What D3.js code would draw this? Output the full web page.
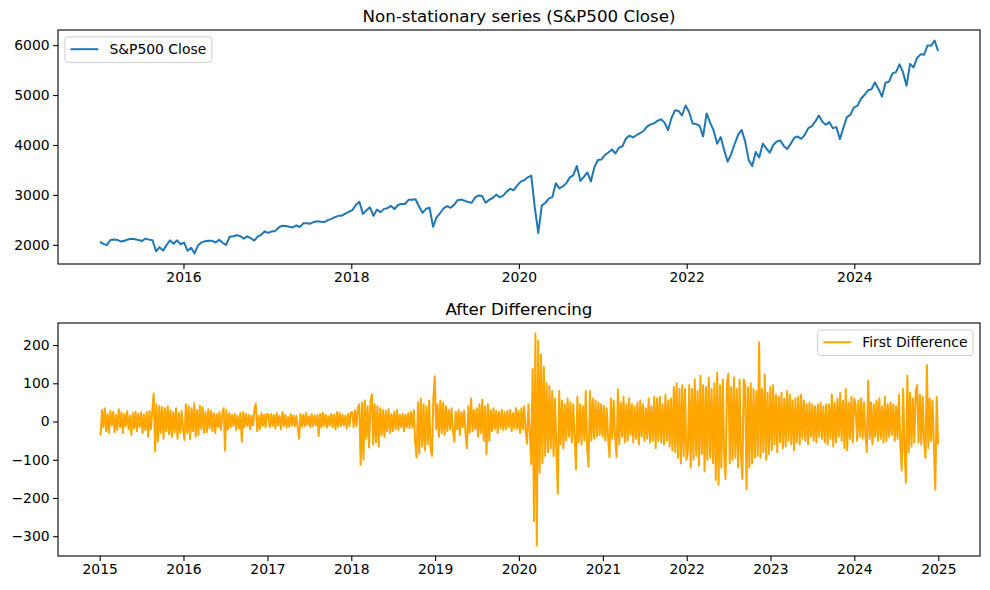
<!DOCTYPE html>
<html>
<head>
<meta charset="utf-8">
<script src="https://cdn.jsdelivr.net/npm/d3@7"></script>
<style>
  body { margin: 0; background: #fff; }
  text { font-family: "DejaVu Sans", sans-serif; }
</style>
</head>
<body>
<script>
// S&P500 close (about two values per month)
var close2015 = [2058, 2019, 1995, 2097, 2108, 2099, 2066, 2081, 2108, 2122, 2111, 2096, 2077, 2124, 2104, 2092, 1870, 1953, 1884, 1994, 2089, 2023, 2090, 2012];
var close2016 = [2044, 1880, 1940, 1829, 1993, 2049, 2072, 2080, 2081, 2047, 2099, 2040, 2000, 2162, 2173, 2190, 2176, 2125, 2171, 2132, 2085, 2164, 2201, 2271];
var close2017 = [2238, 2268, 2279, 2347, 2383, 2378, 2362, 2349, 2391, 2357, 2430, 2433, 2423, 2459, 2470, 2464, 2457, 2495, 2519, 2553, 2581, 2584, 2627, 2662];
var close2018 = [2695, 2802, 2860, 2620, 2691, 2752, 2581, 2706, 2655, 2720, 2734, 2779, 2718, 2798, 2816, 2818, 2901, 2904, 2914, 2767, 2641, 2722, 2743, 2360];
var close2019 = [2550, 2633, 2732, 2774, 2743, 2800, 2895, 2907, 2884, 2856, 2843, 2950, 2990, 2976, 2844, 2900, 2938, 3006, 2952, 2986, 3066, 3122, 3093, 3191];
var close2020 = [3265, 3295, 3352, 3386, 2750, 2237, 2790, 2837, 2930, 2955, 3232, 3131, 3169, 3236, 3351, 3397, 3580, 3281, 3360, 3450, 3270, 3557, 3699, 3709];
var close2021 = [3799, 3849, 3909, 3829, 3943, 3975, 4129, 4187, 4152, 4195, 4239, 4280, 4369, 4411, 4432, 4486, 4514, 4448, 4300, 4544, 4697, 4682, 4590, 4790];
var close2022 = [4660, 4431, 4419, 4385, 4173, 4632, 4447, 4288, 4024, 4158, 3900, 3667, 3818, 4024, 4207, 4300, 4067, 3693, 3577, 3859, 3749, 4027, 3934, 3845];
var close2023 = [3999, 4070, 4090, 3982, 3920, 4027, 4146, 4169, 4124, 4205, 4338, 4378, 4472, 4589, 4464, 4405, 4457, 4337, 4358, 4117, 4347, 4559, 4604, 4754];
var close2024 = [4784, 4925, 5000, 5096, 5117, 5254, 5123, 4967, 5247, 5267, 5433, 5460, 5615, 5459, 5186, 5625, 5554, 5745, 5815, 5808, 5995, 5987, 6090, 5882];

// first difference (spikes of the band, ~60 a year)
var diff2015 = [-37, 30, -15, 35, -25, 20, -30, 28, -10, 25, -28, 18, -22, 32, -15, 24, -30, 20, -12, 27,
    -20, 15, -35, 22, -18, 26, -25, 20, -14, 24, -30, 18, -22, 25, -40, 28, -20, 30, 73, -78,
    45, -52, 40, -30, 38, -45, 35, -25, 40, -33, 30, -40, 25, -28, 35, -45, 22, -30, 28, -20];
var diff2016 = [-48, 45, -30, 40, -46, 35, -25, 48, -40, 30, -35, 42, -20, 38, -30, 25, -28, 32, -18, 28,
    -25, 22, -30, 20, -15, 25, -22, 18, 35, -76, 30, -20, 22, -15, 18, -12, 20, -22, 15, -18,
    22, -53, 25, -15, 20, -12, 18, -20, 15, -10, 30, 47, -25, 15, -20, 22, -12, 18, -15, 20];
var diff2017 = [18, -15, 20, -12, 17, -18, 22, -10, 15, -20, 25, -12, 18, -16, 12, -14, 20, -10, 16, -12,
    15, -18, -45, 20, -14, 18, -12, 22, -10, 14, -15, 20, -12, 16, -10, 18, -38, 20, -15, 22,
    -12, 18, -16, 14, -10, 20, -15, 18, -20, 25, -14, 22, -12, 18, -10, 15, -18, 20, -12, 24];
var diff2018 = [25, -15, 30, -12, 35, 45, -113, 50, -100, 55, -45, 40, -68, 50, 71, -60, 45, -55, 40, -65,
    35, -35, 30, -40, 28, -25, 32, -30, 20, -25, 25, -20, 30, -22, 18, -15, 20, -25, 18, -15,
    22, -18, 25, -15, 30, -55, -94, 50, -84, 60, -65, 45, -75, 40, -60, 55, -70, -90, 60, 118];
var diff2019 = [-20, 45, -40, 55, -30, 50, -35, 40, -25, 30, -20, 35, -25, -53, 25, -20, 30, -35, 25, -15,
    28, -30, -70, 40, -30, 60, -25, 30, -20, 35, -40, 45, -30, 57, -50, 40, -85, 45, -50, 30,
    -25, 35, -20, 28, -30, 25, -18, 30, -22, 25, -20, 28, -15, 30, -25, 22, -18, 35, -20, 28];
var diff2020 = [-30, 35, -20, 40, -25, -58, 45, -30, -111, 137, -261, 230, -324, 211, -133, 175, -110, 143, -90, 100,
    -80, 93, -70, 80, -90, 60, -75, -188, 80, -60, 55, -70, 45, -50, 60, -40, 50, -55, 45, -40,
    -125, 65, -55, 45, -60, 40, -50, 80, -70, -118, 80, -50, 60, -45, 55, -40, 50, -35, 45, -40];
var diff2021 = [40, -50, 35, -45, -93, 60, -45, 55, -40, -93, 84, -60, 50, -40, 65, -55, 45, -50, 60, -35,
    45, -55, 40, -45, 50, -60, 55, -40, 45, -50, 35, -45, 60, -55, 40, -50, 65, -70, 60, -50,
    65, -55, 45, -60, 70, -50, 55, -65, 60, -75, 90, -80, 100, -95, 85, -110, 95, -90, 85, -100];
var diff2022 = [-80, 95, -120, 85, -100, 110, -90, 80, -115, 120, -85, 95, -130, 90, -100, 115, -95, 85, -110, 100,
    -153, 128, -165, 95, -120, 110, -90, -150, 100, 125, -110, 90, -100, 115, -95, 85, -120, 110, -85, -150,
    110, 95, -177, 90, -120, 100, -110, 85, -95, 80, -90, 207, -95, 85, -80, 123, -100, 75, -85, 90];
var diff2023 = [-75, 95, -60, 70, -80, 65, -55, 75, -70, 60, -65, 80, -50, 70, -60, 55, -75, 60, -55, 65,
    -60, 70, -45, 55, -50, 45, -60, 50, -40, 45, -50, 40, -55, 45, -40, 50, -45, 40, -55, 45,
    -60, 45, -45, 70, -65, 50, -55, 60, -40, 75, -50, 55, -70, 85, -75, 50, -45, 65, -55, 60];
var diff2024 = [45, -50, 55, -40, 60, -45, 50, -35, -80, 107, -45, 50, -60, 45, -40, 55, -50, 60, -45, 40,
    -55, 65, -50, 45, -40, 50, -35, 45, -50, 40, -45, 70, -60, -128, 85, -70, -160, 120, -80, 75,
    -65, 60, -55, 80, 95, -55, 70, -60, 65, -50, -95, 147, -70, 60, -50, 55, -65, -178, 65, -60];

var closeStart = new Date(2015, 0, 2), closeEnd = new Date(2024, 11, 31);
var diffStart = new Date(2015, 0, 5), diffEnd = new Date(2024, 11, 31);

var topYears = [2016, 2018, 2020, 2022, 2024];
var bottomYears = [2015, 2016, 2017, 2018, 2019, 2020, 2021, 2022, 2023, 2024, 2025];
var closeTicks = [2000, 3000, 4000, 5000, 6000];
var diffTicks = [-300, -200, -100, 0, 100, 200];

var closeValues = [].concat(close2015, close2016, close2017, close2018, close2019,
    close2020, close2021, close2022, close2023, close2024);
var diffValues = [].concat(diff2015, diff2016, diff2017, diff2018, diff2019,
    diff2020, diff2021, diff2022, diff2023, diff2024);

// spread each series evenly between its first and last trading day
function withDates(values, start, end) {
    var t = d3.scaleLinear().domain([0, values.length - 1]).range([+start, +end]);
    return values.map(function (v, i) { return { date: new Date(t(i)), value: v }; });
}
var closeData = withDates(closeValues, closeStart, closeEnd);
var diffData = withDates(diffValues, diffStart, diffEnd);

var width = 990, height = 590;
var left = 58, right = 980;
var tickFont = 13.9, titleFont = 16.7;

var svg = d3.select("body").append("svg")
    .attr("width", width)
    .attr("height", height);

// matplotlib style 5% margin around the data
function padded(lo, hi) {
    var m = (hi - lo) * 0.05;
    return [lo - m, hi + m];
}

var tDom = padded(+closeStart, +closeEnd);
var xScale = d3.scaleTime()
    .domain([new Date(tDom[0]), new Date(tDom[1])])
    .range([left, right]);

function panel(opt) {
    var yScale = d3.scaleLinear()
        .domain(padded(d3.min(opt.data, function (d) { return d.value; }),
                       d3.max(opt.data, function (d) { return d.value; })))
        .range([opt.bottom, opt.top]);

    var g = svg.append("g");

    var line = d3.line()
        .x(function (d) { return xScale(d.date); })
        .y(function (d) { return yScale(d.value); });

    g.append("path")
        .datum(opt.data)
        .attr("d", line)
        .attr("fill", "none")
        .attr("stroke", opt.color)
        .attr("stroke-width", 2)
        .attr("stroke-linejoin", "round");

    var xAxis = d3.axisBottom(xScale)
        .tickValues(opt.years.map(function (y) { return new Date(y, 0, 1); }))
        .tickFormat(d3.timeFormat("%Y"))
        .tickSize(4.9).tickSizeOuter(0).tickPadding(3.5);
    var gx = g.append("g")
        .attr("transform", "translate(0," + opt.bottom + ")")
        .call(xAxis);

    var yAxis = d3.axisLeft(yScale)
        .tickValues(opt.yticks)
        .tickFormat(d3.format("d"))
        .tickSize(4.9).tickSizeOuter(0).tickPadding(3.5);
    var gy = g.append("g")
        .attr("transform", "translate(" + left + ",0)")
        .call(yAxis);

    [gx, gy].forEach(function (a) {
        a.select(".domain").remove();
        a.selectAll("line").attr("stroke", "#000").attr("stroke-width", 1.1);
        a.selectAll("text")
            .attr("fill", "#000")
            .style("font-family", "'DejaVu Sans', sans-serif")
            .style("font-size", tickFont + "px");
    });

    // spines
    g.append("rect")
        .attr("x", left).attr("y", opt.top)
        .attr("width", right - left).attr("height", opt.bottom - opt.top)
        .attr("fill", "none")
        .attr("stroke", "#000")
        .attr("stroke-width", 1.1);

    g.append("text")
        .attr("x", (left + right) / 2)
        .attr("y", opt.top - 8.3)
        .attr("text-anchor", "middle")
        .style("font-size", titleFont + "px")
        .attr("fill", "#000")
        .text(opt.title);

    // legend
    var lg = g.append("g");
    var box = lg.append("rect")
        .attr("fill", "#fff").attr("fill-opacity", 0.8)
        .attr("stroke", "#cccccc").attr("stroke-width", 1)
        .attr("rx", 2.8);
    var label = lg.append("text")
        .style("font-size", tickFont + "px")
        .attr("fill", "#000")
        .text(opt.label);
    var tw = label.node().getComputedTextLength();
    var bw = 5.6 + 27.8 + 11.1 + tw + 5.6, bh = 25.5;
    var bx = opt.legendRight ? right - 6.9 - bw : left + 6.9;
    var by = opt.top + 6.9;
    box.attr("x", bx).attr("y", by).attr("width", bw).attr("height", bh);
    lg.append("line")
        .attr("x1", bx + 5.6).attr("x2", bx + 5.6 + 27.8)
        .attr("y1", by + 12.3).attr("y2", by + 12.3)
        .attr("stroke", opt.color).attr("stroke-width", 2);
    label.attr("x", bx + 5.6 + 27.8 + 11.1).attr("y", by + 17.3);
}

panel({
    data: closeData, top: 30, bottom: 264, color: "#1f77b4",
    years: topYears, yticks: closeTicks,
    title: "Non-stationary series (S&P500 Close)",
    label: "S&P500 Close", legendRight: false
});

panel({
    data: diffData, top: 323, bottom: 556, color: "orange",
    years: bottomYears, yticks: diffTicks,
    title: "After Differencing",
    label: "First Difference", legendRight: true
});
</script>
</body>
</html>
